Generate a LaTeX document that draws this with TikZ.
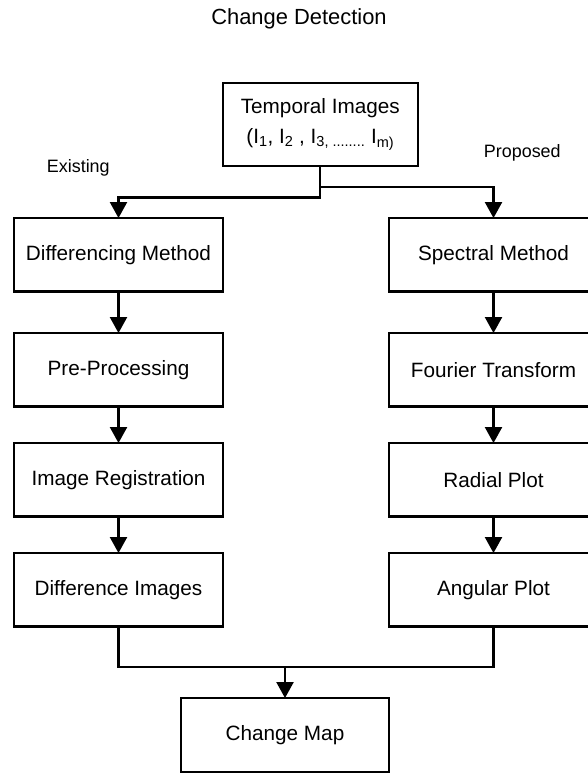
\documentclass[tikz,border=0pt]{standalone}
\usepackage{fontspec}
\setmainfont{Liberation Sans}
\usepackage{tikz}
\usetikzlibrary{positioning}
\usetikzlibrary{arrows.meta}

\begin{document}
\begin{tikzpicture}[x=1bp,y=1bp,
box/.style={draw,line width=2.2bp,outer sep=0pt,inner sep=0pt,minimum width=209bp,minimum height=73.5bp,align=center,font=\fontsize{20.8}{30}\selectfont},
flow/.style={line width=2.2bp,-{Triangle[length=16bp,width=17bp]}},
link/.style={line width=2.2bp},
side/.style={font=\fontsize{18}{22}\selectfont}]
\useasboundingbox (0,0) rectangle (588,-773);
\node[font=\fontsize{22}{26}\selectfont] (title) at (299,-19) {Change Detection};
\node[box,minimum width=195bp,minimum height=83bp] (temporal) at (320.3,-124.5) {Temporal Images\\(I\textsubscript{1}, I\textsubscript{2} , I\textsubscript{3, ........} I\textsubscript{m)}};
\node[side] (existing) at (78.3,-168.3) {Existing};
\node[side] (proposed) at (522.3,-153.3) {Proposed};
\node[box] (diff) at (118.5,-254.8) {Differencing Method};
\node[box,below=41.5bp of diff] (pre) {Pre-Processing};
\node[box,below=36.5bp of pre] (reg) {Image Registration};
\node[box,below=36.5bp of reg] (diffimg) {Difference Images};
\node[box,right=166bp of diff] (spec) {Spectral Method};
\node[box,right=166bp of pre] (fourier) {Fourier Transform};
\node[box,right=166bp of reg] (radial) {Radial Plot};
\node[box,right=166bp of diffimg] (angular) {Angular Plot};
\node[box,minimum width=208bp,minimum height=74bp,below=71.5bp of diffimg,xshift=166.5bp] (cmap) {Change Map};
\draw[flow] (temporal.south) -- ++(0,-31.5) -| (diff.north);
\draw[flow] (temporal.south) -- ++(0,-21) -| (spec.north);
\draw[flow] (diff.south) -- (pre.north);
\draw[flow] (pre.south) -- (reg.north);
\draw[flow] (reg.south) -- (diffimg.north);
\draw[flow] (spec.south) -- (fourier.north);
\draw[flow] (fourier.south) -- (radial.north);
\draw[flow] (radial.south) -- (angular.north);
\draw[link] (diffimg.south) -- ++(0,-40.5) coordinate (joinL) -| (angular.south);
\draw[flow] (joinL -| cmap.north) -- (cmap.north);
\end{tikzpicture}
\end{document}
